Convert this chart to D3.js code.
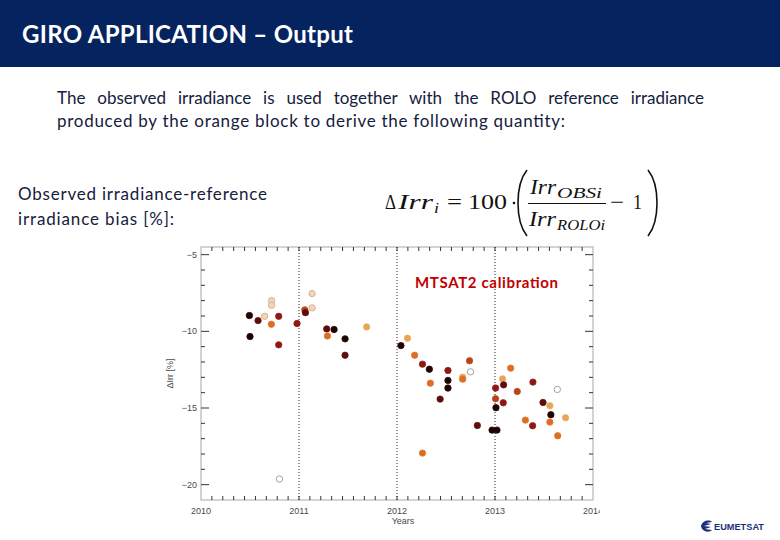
<!DOCTYPE html>
<html>
<head>
<meta charset="utf-8">
<script src="https://cdn.jsdelivr.net/npm/d3@7"></script>
<style>
  html, body { margin: 0; padding: 0; background: #fff; }
  svg { display: block; }
</style>
</head>
<body>
<svg id="slide" width="780" height="540"></svg>
<script>
// ---- data ----
const years = [2010.494, 2010.500, 2010.582, 2010.650, 2010.720, 2010.720, 2010.718, 2010.793, 2010.793, 2010.800,
  2010.980, 2011.059, 2011.066, 2011.134, 2011.134, 2011.283, 2011.290, 2011.358, 2011.470, 2011.470,
  2011.690, 2012.040, 2012.107, 2012.180, 2012.260, 2012.330, 2012.340, 2012.440, 2012.520, 2012.520,
  2012.520, 2012.670, 2012.670, 2012.740, 2012.750, 2012.820, 2012.260, 2012.970, 2013.020, 2013.006,
  2013.006, 2013.010, 2013.077, 2013.088, 2013.084, 2013.160, 2013.227, 2013.310, 2013.387, 2013.384,
  2013.490, 2013.560, 2013.570, 2013.560, 2013.636, 2013.640, 2013.720];
const bias = [-8.97, -10.34, -9.30, -9.02, -8.00, -8.30, -9.54, -9.02, -10.88, -19.63,
  -9.49, -8.60, -8.78, -7.54, -8.47, -9.84, -10.30, -9.88, -10.49, -11.56,
  -9.71, -10.93, -10.45, -11.56, -12.14, -12.47, -13.38, -14.42, -12.55, -13.20,
  -13.70, -12.99, -13.12, -11.92, -12.64, -16.14, -17.94, -16.44, -16.44, -13.70,
  -14.40, -14.98, -13.10, -13.49, -14.66, -12.40, -13.92, -15.79, -13.31, -16.16,
  -14.64, -14.85, -15.44, -15.92, -13.79, -16.81, -15.64];
const shade = ['k', 'k', 'dr', 'p', 'p', 'p', 'o', 'r', 'r', 'w',
  'r', 'or', 'dr', 'p', 'p', 'dr', 'o', 'k', 'k', 'dr',
  'lo', 'k', 'lo', 'o', 'r', 'k', 'o', 'dr', 'r', 'k',
  'k', 'lo', 'o', 'or', 'w', 'dr', 'o', 'k', 'k', 'r',
  'or', 'k', 'lo', 'dr', 'r', 'o', 'or', 'o', 'r', 'r',
  'dr', 'lo', 'k', 'o', 'w', 'o', 'lo'];
const shadeKeys = ['k', 'dr', 'r', 'or', 'o', 'lo', 'p', 'w'];
const shadeFill = ['#1e0303', '#5c0c0b', '#8f1612', '#b9421a', '#dd6d22', '#e8a559', '#f3d4b6', '#ffffff'];
const shadeLine = ['#2a0808', '#6a1614', '#9a2420', '#c25028', '#e07a34', '#e9ae68', '#caa888', '#8c8c8c'];

const yTicks = [-20, -15, -10, -5];
const xTicks = [2010, 2011, 2012, 2013, 2014];
const calibYears = [2011, 2012, 2013];

const titleText = 'GIRO APPLICATION – Output';
const bodyLines = ['The observed irradiance is used together with the ROLO reference irradiance',
  'produced by the orange block to derive the following quantity:'];
const sideLines = ['Observed irradiance-reference', 'irradiance bias [%]:'];

// ---- slide ----
const svg = d3.select('#slide');
const NAVY = '#05235f', INK = '#15203d';

svg.append('rect').attr('x', 0).attr('y', 0).attr('width', 780).attr('height', 67).attr('fill', NAVY);
svg.append('text').attr('x', 22).attr('y', 43)
  .attr('font-family', 'Lato, sans-serif').attr('font-weight', 700).attr('font-size', 24)
  .attr('fill', '#fff').attr('textLength', 331).attr('lengthAdjust', 'spacing')
  .text(titleText);

// body paragraph, first line justified by word spacing
const l1 = svg.append('text').attr('x', 57).attr('y', 104)
  .attr('font-family', 'Lato, sans-serif').attr('font-size', 17).attr('fill', INK)
  .text(bodyLines[0]);
{
  const n = bodyLines[0].split(' ').length - 1;
  const w = l1.node().getComputedTextLength();
  l1.attr('word-spacing', (647 - w) / n);
}
svg.append('text').attr('x', 57).attr('y', 127)
  .attr('font-family', 'Lato, sans-serif').attr('font-size', 17).attr('fill', INK)
  .attr('textLength', 508).attr('lengthAdjust', 'spacing')
  .text(bodyLines[1]);

svg.selectAll('text.side').data(sideLines).join('text').attr('class', 'side')
  .attr('x', 18).attr('y', (d, i) => 200 + i * 25)
  .attr('font-family', 'Lato, sans-serif').attr('font-size', 17).attr('fill', INK)
  .attr('textLength', (d, i) => i === 0 ? 249 : 156).attr('lengthAdjust', 'spacing')
  .text(d => d);

// ---- formula: each piece fitted to its span in the reference ----
const fm = svg.append('g').attr('font-family', '"Liberation Serif", serif').attr('fill', '#111');
function piece(x0, x1, y, s, size, italic) {
  return fm.append('text').attr('x', x0).attr('y', y).attr('font-size', size)
    .attr('font-style', italic ? 'italic' : 'normal')
    .attr('textLength', x1 - x0).attr('lengthAdjust', 'spacingAndGlyphs').text(s);
}
piece(385, 396, 209, 'Δ', 20, false);
piece(398, 433, 209, 'Irr', 21, true);
piece(434, 439, 213, 'i', 14, true);
piece(447, 462, 209, '=', 21, false);
piece(468, 507, 209, '100', 21, false);
fm.append('circle').attr('cx', 514).attr('cy', 203).attr('r', 1.3).attr('fill', '#111');
piece(530, 556, 194, 'Irr', 21, true);
piece(557, 602, 198, 'OBSi', 14, true);
fm.append('line').attr('x1', 528).attr('x2', 606).attr('y1', 203.5).attr('y2', 203.5)
  .attr('stroke', '#111').attr('stroke-width', 1.2);
piece(529, 556, 226, 'Irr', 21, true);
piece(557, 605, 230, 'ROLOi', 14, true);
piece(610, 624, 209, '−', 21, false);
piece(633, 642, 209, '1', 21, false);
// tall parentheses drawn as curves
fm.append('path').attr('d', 'M527,170 C515,185 515,221 527,236')
  .attr('fill', 'none').attr('stroke', '#111').attr('stroke-width', 1.6);
fm.append('path').attr('d', 'M648,170 C660,185 660,221 648,236')
  .attr('fill', 'none').attr('stroke', '#111').attr('stroke-width', 1.6);

// ---- plot ----
const X0 = 201, X1 = 593, Y0 = 247, Y1 = 500;
const x = d3.scaleLinear().domain([2010, 2014]).range([X0, X1]);
const y = d3.scaleLinear().domain([-21, -4.5]).range([Y1, Y0]);
const plot = svg.append('g');

svg.append('clipPath').attr('id', 'imgclip').append('rect')
  .attr('x', 150).attr('y', 240).attr('width', 450).attr('height', 300);

const AX = '#a8a8a8', TK = '#333', LAB = '#4a4a4a';
plot.append('rect').attr('x', X0).attr('y', Y0).attr('width', X1 - X0).attr('height', Y1 - Y0)
  .attr('fill', 'none').attr('stroke', AX).attr('stroke-width', 1);

// x ticks (minor every 1/9 year), top and bottom
const xMinor = d3.range(2010, 2014.001, 1 / 9).filter(v => v > 2010.01 && v < 2013.99);
plot.selectAll('line.xb').data(xMinor).join('line').attr('class', 'xb')
  .attr('x1', d => x(d)).attr('x2', d => x(d)).attr('y1', Y1).attr('y2', Y1 - 4)
  .attr('stroke', TK).attr('stroke-width', 1);
plot.selectAll('line.xt').data(xMinor).join('line').attr('class', 'xt')
  .attr('x1', d => x(d)).attr('x2', d => x(d)).attr('y1', Y0).attr('y2', Y0 + 4)
  .attr('stroke', TK).attr('stroke-width', 1);

// y ticks both sides
const yMinor = d3.range(-20, -4, 1).filter(v => !yTicks.includes(v));
[[X0, 1], [X1, -1]].forEach(([x0, dir]) => {
  plot.append('g').selectAll('line').data(yMinor).join('line')
    .attr('x1', x0).attr('x2', x0 + dir * 4).attr('y1', d => y(d)).attr('y2', d => y(d))
    .attr('stroke', TK).attr('stroke-width', 1);
  plot.append('g').selectAll('line').data(yTicks).join('line')
    .attr('x1', x0).attr('x2', x0 + dir * 8).attr('y1', d => y(d)).attr('y2', d => y(d))
    .attr('stroke', TK).attr('stroke-width', 1);
});

// calibration year dotted lines
plot.selectAll('line.cal').data(calibYears).join('line').attr('class', 'cal')
  .attr('x1', d => x(d)).attr('x2', d => x(d)).attr('y1', Y0).attr('y2', Y1)
  .attr('stroke', '#222').attr('stroke-width', 1).attr('stroke-dasharray', '1 2');

// tick labels
plot.selectAll('text.yl').data(yTicks).join('text').attr('class', 'yl')
  .attr('x', X0 - 4).attr('y', d => y(d) + 3).attr('text-anchor', 'end')
  .attr('font-family', '"Liberation Sans", sans-serif').attr('font-size', 9).attr('fill', LAB)
  .text(d => '−' + Math.abs(d));
plot.append('g').attr('clip-path', 'url(#imgclip)')
  .selectAll('text').data(xTicks).join('text')
  .attr('x', d => x(d)).attr('y', Y1 + 14).attr('text-anchor', 'middle')
  .attr('font-family', '"Liberation Sans", sans-serif').attr('font-size', 9).attr('fill', LAB)
  .text(d => d);
plot.append('text').attr('x', 403).attr('y', 524).attr('text-anchor', 'middle')
  .attr('font-family', '"Liberation Sans", sans-serif').attr('font-size', 9).attr('fill', LAB)
  .text('Years');
plot.append('text').attr('transform', `translate(173,${(Y0 + Y1) / 2}) rotate(-90)`)
  .attr('text-anchor', 'middle')
  .attr('font-family', '"Liberation Sans", sans-serif').attr('font-size', 9).attr('fill', LAB)
  .text('ΔIrr [%]');

// points
const fill = d3.scaleOrdinal().domain(shadeKeys).range(shadeFill);
const line = d3.scaleOrdinal().domain(shadeKeys).range(shadeLine);
plot.append('g').selectAll('circle').data(d3.range(years.length)).join('circle')
  .attr('cx', i => x(years[i])).attr('cy', i => y(bias[i])).attr('r', 3.2)
  .attr('fill', i => fill(shade[i])).attr('stroke', i => line(shade[i])).attr('stroke-width', 0.8);

plot.append('text').attr('x', 415).attr('y', 288)
  .attr('font-family', 'Lato, sans-serif').attr('font-weight', 700).attr('font-size', 15)
  .attr('fill', '#c00000').attr('textLength', 143).attr('lengthAdjust', 'spacing')
  .text('MTSAT2 calibration');

// ---- logo ----
const logo = svg.append('g').attr('transform', 'translate(700,520)');
logo.append('path').attr('d', 'M1,6 C2,1 9,-1 12,2 L6,3 L11,4 L4,6 L11,7 L5,9 L12,10 C9,13 2,12 1,6 Z')
  .attr('fill', '#1c2f7a');
logo.append('text').attr('x', 14).attr('y', 10)
  .attr('font-family', '"Liberation Sans", sans-serif').attr('font-weight', 700).attr('font-size', 9)
  .attr('fill', '#1c2f7a').attr('textLength', 50).attr('lengthAdjust', 'spacingAndGlyphs')
  .text('EUMETSAT');
</script>
</body>
</html>
